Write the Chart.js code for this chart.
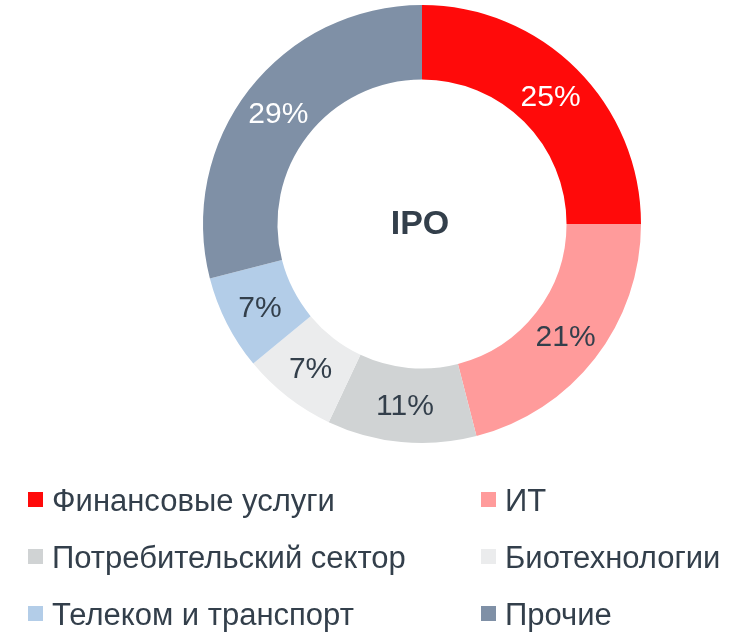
<!DOCTYPE html>
<html>
<head>
<meta charset="utf-8">
<script src="https://cdn.jsdelivr.net/npm/chart.js@4/dist/chart.umd.min.js"></script>
<style>
  html, body { margin: 0; padding: 0; background: #fff; }
  #wrap { width: 754px; height: 636px; position: relative; }
</style>
</head>
<body>
<div id="wrap"><canvas id="myChart" width="754" height="636"></canvas></div>
<script>
// data
const sectors = ["Финансовые услуги", "ИТ", "Потребительский сектор", "Биотехнологии", "Телеком и транспорт", "Прочие"];
const shares = [25, 21, 11, 7, 7, 29];
const sectorColors = ["#FF0A0A", "#FF9B9B", "#D0D3D4", "#EBECED", "#B3CDE8", "#7F90A6"];
const labelColors = ["#FFFFFF", "#333F4B", "#333F4B", "#333F4B", "#333F4B", "#FFFFFF"];
const centerText = "IPO";

const textDark = "#333F4B";
const fontName = "Arial, 'Liberation Sans', sans-serif";

// percentage labels inside the ring + centre text
const ringLabels = {
  id: "ringLabels",
  afterDatasetsDraw(chart) {
    const ctx = chart.ctx;
    const meta = chart.getDatasetMeta(0);
    ctx.save();
    ctx.textAlign = "center";
    ctx.textBaseline = "middle";
    ctx.font = "30px " + fontName;
    meta.data.forEach(function (arc, i) {
      const p = arc.tooltipPosition();
      ctx.fillStyle = labelColors[i];
      ctx.fillText(shares[i] + "%", p.x, p.y + 2);
    });
    const c = meta.data[0];
    ctx.font = "bold 34px " + fontName;
    ctx.fillStyle = textDark;
    ctx.fillText(centerText, c.x - 2, c.y + 1);
    ctx.restore();
  }
};

// two column legend under the ring
const gridLegend = {
  id: "gridLegend",
  afterDraw(chart) {
    const ctx = chart.ctx;
    const colX = [28, 481];
    const rowY = [500, 557, 614];
    ctx.save();
    ctx.textBaseline = "middle";
    ctx.textAlign = "left";
    ctx.font = "31px " + fontName;
    chart.data.labels.forEach(function (lab, i) {
      const x = colX[i % 2];
      const y = rowY[Math.floor(i / 2)];
      ctx.fillStyle = chart.data.datasets[0].backgroundColor[i];
      ctx.fillRect(x, y - 8, 15, 15);
      ctx.fillStyle = textDark;
      ctx.fillText(lab, x + 24, y + 2);
    });
    ctx.restore();
  }
};

const chart1 = new Chart(document.getElementById("myChart").getContext("2d"), {
  type: "doughnut",
  data: {
    labels: sectors,
    datasets: [{
      data: shares,
      backgroundColor: sectorColors,
      borderWidth: 0
    }]
  },
  options: {
    responsive: false,
    animation: false,
    cutout: "66%",
    layout: { padding: { left: 203, right: 113, top: 5, bottom: 193 } },
    plugins: {
      legend: { display: false },
      tooltip: { enabled: false }
    }
  },
  plugins: [ringLabels, gridLegend]
});
</script>
</body>
</html>
